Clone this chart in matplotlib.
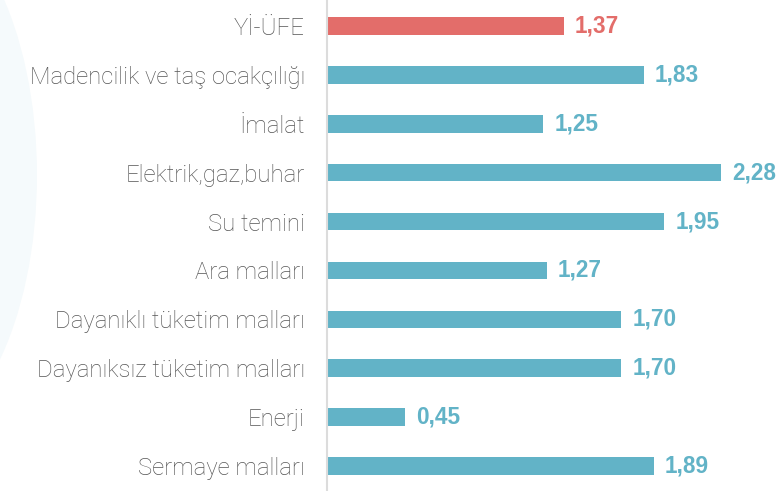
import matplotlib
matplotlib.use("Agg")
import matplotlib.pyplot as plt
from matplotlib.patches import Ellipse

categories = ["Yİ-ÜFE", "Madencilik ve taş ocakçılığı", "İmalat", "Elektrik,gaz,buhar",
              "Su temini", "Ara malları", "Dayanıklı tüketim malları",
              "Dayanıksız tüketim malları", "Enerji", "Sermaye malları"]
values = [1.37, 1.83, 1.25, 2.28, 1.95, 1.27, 1.70, 1.70, 0.45, 1.89]
value_labels = ["1,37", "1,83", "1,25", "2,28", "1,95", "1,27", "1,70", "1,70", "0,45", "1,89"]

RED = "#e36d6a"
TEAL = "#62b3c7"
colors = [RED] + [TEAL] * (len(values) - 1)

W, H = 779, 491
fig = plt.figure(figsize=(W / 100, H / 100), dpi=100)
fig.patch.set_facecolor("white")

# faint background arc
arc = Ellipse((-100 / W, 1 - 175 / H), 2 * 137 / W, 2 * 270 / H, transform=fig.transFigure,
              facecolor="#f5fafc", edgecolor="none", zorder=0)
fig.patches.append(arc)

ax = fig.add_axes([327 / W, 0, (W - 327) / W, 1])
ax.set_facecolor("none")

y = list(range(len(values)))
ax.barh(y, values, height=0.36, color=colors, zorder=2)

spacing = 48.9
ax.set_ylim(9 + (H - 466) / spacing, -26 / spacing)
ax.set_xlim(0, (W - 327) / 173.0)

ax.set_yticks(y)
ax.set_yticklabels(categories, fontsize=17.2, color="#555555",
                   fontfamily="Roboto", fontweight="light")
ax.tick_params(axis="y", length=0, pad=16)
ax.set_xticks([])

for s in ["top", "right", "bottom"]:
    ax.spines[s].set_visible(False)
ax.spines["left"].set_color("#dcdcdc")
ax.spines["left"].set_linewidth(1.5)

for yi, v, lab, c in zip(y, values, value_labels, colors):
    ax.annotate(lab, (v, yi), xytext=(8, 0), textcoords="offset points",
                va="center", ha="left", fontsize=16.3, fontweight="bold",
                color=c, fontfamily="Liberation Sans")

fig.savefig("out.png", dpi=100)
